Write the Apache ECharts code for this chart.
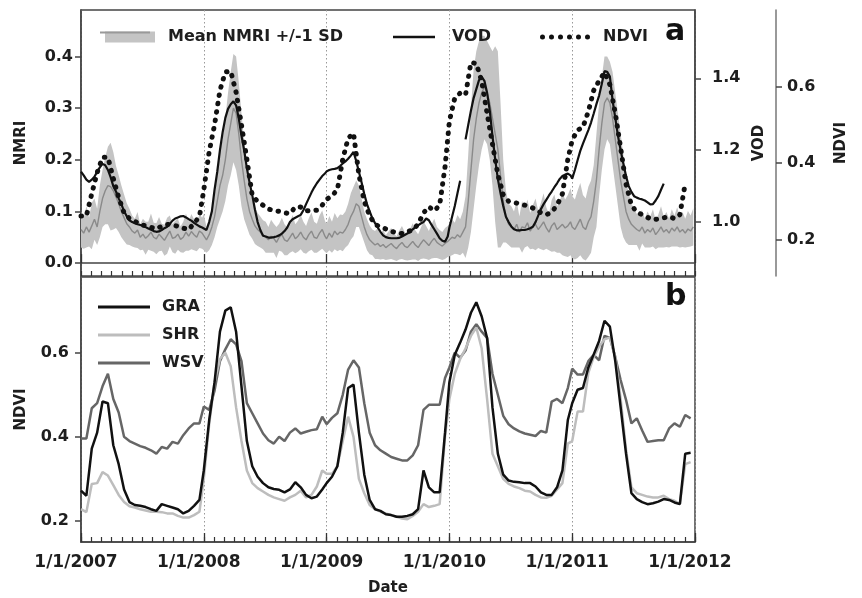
<!DOCTYPE html>
<html>
<head>
<meta charset="utf-8">
<script src="https://cdn.jsdelivr.net/npm/echarts@6/dist/echarts.min.js"></script>
<style>
    html, body { margin: 0; padding: 0; background: #fff; }
    #chart { width: 862px; height: 598px; }
</style>
</head>
<body>
<div id="chart"></div>
<script>
// 8-day NMRI (mean and SD), 2007-2011
let nmriMean = [
    .065,.058,.07,.06, .072,.085,.07,.1, .125,.14,.15, .148,.14,.128, .115,.1,.088,.076,
    .07,.062,.058,.064,.05,.056,.048,.053,.06,.05,.047,.056,.05,.044,.053,.062,.048,.05,.056,.046,.05,.06,.052,.061,.055,.05,.062,
    .058,.06,.045,.055,.07,
    .09,.12,.15,.17,.2,.24,.27,.30,.29,.25,.2,.16,.125,.1,.085,.072,.065,
    .06,.055,.05,.045,.052,.048,.04,.05,.055,.045,.042,.05,.058,.047,.052,.06,.05,.045,.055,.062,.05,.048,.058,.065,.052,.047,.058,.05,.062,.055,.06,.058,
    .065,.075,.09,.1,.115,.11,.09,.07,
    .055,.045,.04,.035,.038,.032,.036,.03,.034,.038,.032,.028,.035,.04,.033,.03,.036,.042,.035,.03,.038,.045,.04,.034,.042,.048,.04,.036,.033,.038,
    .042,.045,.05,.048,.055,.05,.06,
    .07,.12,.18,.24,.28,.31,.33,.34,.33,.31,.28,.25,.22,.17,.12,.09,.075,
    .07,.065,.075,.06,.07,.068,.078,.062,.07,.075,.065,.072,.08,.068,.06,.072,.078,.065,.07,.075,.068,.072,.08,.07,.065,.075,.085,.07,.065,.08,.09,
    .12,.16,.22,.27,.31,.32,.31,.28,.24,.2,.16,.13,.1,.085,.075,
    .07,.065,.062,.07,.058,.065,.06,.068,.055,.062,.07,.06,.065,.058,.068,.062,.07,.06,.065,.058,.066,.062,.07
];
let nmriSd = [
    .035,.03,.04,.028, .045,.04,.035,.05, .055,.065,.075, .085,.075,.06, .055,.05,.045,.04,
    .035,.03,.028,.035,.025,.03,.032,.027,.036,.028,.03,.033,.026,.03,.035,.03,.027,.032,.03,.025,.03,.036,.028,.034,.03,.027,.033,
    .03,.035,.025,.03,.035,
    .04,.05,.065,.07,.08,.09,.1,.105,.11,.1,.09,.075,.055,.045,.038,.035,.032,
    .03,.028,.03,.025,.032,.028,.03,.026,.033,.03,.027,.03,.035,.028,.03,.033,.03,.027,.032,.036,.03,.028,.034,.037,.03,.028,.033,.03,.035,.032,.034,.035,
    .035,.04,.045,.048,.045,.04,.035,.03,
    .03,.028,.025,.027,.03,.025,.028,.024,.027,.03,.026,.024,.028,.032,.027,.025,.03,.035,.028,.026,.03,.036,.032,.028,.033,.038,.03,.028,.027,.03,
    .03,.032,.035,.03,.038,.035,.04,
    .06,.09,.12,.135,.13,.12,.11,.1,.1,.11,.13,.17,.19,.14,.08,.05,.04,
    .04,.035,.045,.03,.05,.038,.045,.035,.042,.05,.036,.045,.055,.04,.035,.05,.055,.045,.05,.06,.055,.06,.065,.06,.058,.065,.07,.062,.06,.068,.07,
    .07,.09,.09,.09,.09,.08,.08,.09,.09,.09,.09,.08,.06,.05,.04,
    .035,.03,.038,.032,.028,.035,.03,.036,.028,.032,.04,.03,.034,.028,.036,.03,.038,.03,.034,.028,.035,.03,.036
];

// 8-day VOD, null = no data
let vod = [
    1.14,1.13,1.118,1.112,1.118,1.126,1.14,1.152,1.162,1.158,
    1.145,1.125,1.1,1.085,1.066,1.05,1.03,1.016,1.005,1.0,
    .997,.994,.992,.99,.986,.982,.979,.975,.973,.974,
    .978,.983,.987,.995,1.004,1.01,1.013,1.016,1.017,1.013,
    1.008,1.004,.998,.993,.988,.985,.982,.978,1.0,1.03,
    1.09,1.14,1.2,1.25,1.29,1.315,1.328,1.336,1.325,1.288,
    1.24,1.2,1.15,1.11,1.075,1.035,1.0,.978,.962,.96,
    .957,.957,.958,.96,.963,.968,.975,.985,1.0,1.008,
    1.012,1.016,1.02,1.033,1.05,1.066,1.082,1.096,1.108,1.118,
    1.128,1.135,1.141,1.145,1.147,1.148,1.15,1.156,1.163,1.169,
    1.176,1.185,1.195,1.17,1.14,1.11,1.078,1.05,1.03,1.01,
    .997,.985,.973,.963,.958,.956,.955,.955,.955,.956,
    .96,.964,.968,.974,.98,.986,.991,.996,1.0,1.01,
    1.005,.992,.98,.968,.955,.948,.945,.96,.985,1.015,
    1.045,1.08,1.115,null,1.23,1.27,1.31,1.345,1.37,1.395,
    1.404,1.393,1.36,1.31,1.24,1.175,1.12,1.08,1.045,1.015,
    1.0,.988,.98,.977,.977,.978,.978,.98,.983,.987,
    1.0,1.018,1.036,1.05,1.062,1.074,1.085,1.097,1.108,1.12,
    1.128,1.132,1.135,1.13,1.121,1.145,1.172,1.198,1.218,1.237,
    1.256,1.277,1.302,1.328,1.352,1.385,1.42,1.418,1.405,1.339,
    1.29,1.24,1.2,1.163,1.128,1.1,1.084,1.072,1.068,1.065,
    1.063,1.06,1.055,1.049,1.05,1.06,1.072,1.09,1.107
];

// 16-day NDVI composites
let ndviMean = [
    .262,.262,.32,.375,.415,.415,.36,.31,.27,.255,
    .248,.24,.236,.232,.228,.235,.24,.238,.235,.23,
    .226,.243,.26,.33,.43,.50,.59,.638,.64,.585,
    .50,.41,.315,.30,.29,.28,.276,.274,.27,.268,
    .285,.285,.275,.276,.277,.29,.305,.315,.33,.41,
    .465,.478,.37,.30,.262,.24,.233,.228,.222,.218,
    .216,.22,.226,.24,.27,.286,.275,.29,.39,.51,
    .57,.583,.578,.663,.66,.614,.53,.45,.37,.318,
    .30,.297,.294,.29,.285,.28,.27,.265,.272,.29,
    .32,.41,.46,.486,.494,.535,.59,.615,.637,.605,
    .53,.44,.345,.29,.272,.265,.258,.252,.254,.257,
    .26,.255,.265,.347
];
let gra = [
    .272,.26,.372,.41,.484,.48,.38,.335,.275,.245,
    .238,.236,.233,.228,.224,.24,.236,.232,.228,.218,
    .224,.236,.25,.32,.44,.53,.65,.70,.708,.65,
    .52,.39,.33,.305,.29,.28,.276,.274,.268,.275,
    .292,.28,.262,.254,.258,.275,.29,.305,.33,.41,
    .516,.524,.41,.31,.25,.228,.224,.216,.214,.21,
    .21,.212,.216,.228,.32,.28,.268,.268,.41,.53,
    .595,.624,.655,.695,.72,.686,.635,.47,.36,.31,
    .296,.293,.292,.29,.29,.282,.268,.262,.262,.28,
    .32,.44,.48,.512,.516,.565,.596,.628,.676,.662,
    .58,.47,.36,.266,.252,.245,.24,.242,.246,.252,
    .25,.244,.24,.36,.362
];
let shr = [
    .228,.221,.288,.29,.316,.308,.285,.262,.245,.235,
    .232,.228,.225,.222,.222,.221,.218,.218,.212,.208,
    .208,.214,.222,.30,.43,.53,.585,.60,.568,.47,
    .39,.32,.29,.278,.27,.262,.256,.252,.248,.256,
    .262,.272,.256,.262,.282,.32,.312,.312,.33,.39,
    .448,.40,.30,.266,.238,.228,.222,.218,.214,.21,
    .206,.204,.212,.222,.24,.233,.236,.24,.40,.49,
    .55,.585,.61,.64,.66,.61,.49,.36,.33,.30,
    .288,.282,.278,.272,.27,.262,.256,.255,.26,.275,
    .29,.384,.39,.46,.46,.552,.59,.615,.632,.636,
    .59,.49,.37,.28,.266,.262,.258,.256,.256,.26,
    .252,.248,.24,.335,.34
];
let wsv = [
    .396,.396,.468,.48,.52,.55,.49,.458,.40,.39,
    .384,.378,.374,.368,.36,.376,.372,.388,.384,.404,
    .42,.432,.432,.472,.464,.51,.58,.608,.632,.62,
    .58,.48,.456,.432,.408,.392,.384,.40,.39,.41,
    .42,.408,.412,.416,.418,.448,.43,.445,.456,.50,
    .56,.582,.565,.48,.41,.38,.368,.36,.352,.348,
    .344,.344,.356,.38,.464,.476,.476,.476,.54,.565,
    .60,.588,.605,.65,.668,.65,.635,.55,.50,.45,
    .43,.42,.413,.408,.405,.402,.414,.41,.484,.49,
    .48,.516,.562,.548,.548,.58,.595,.582,.64,.635,
    .59,.535,.488,.432,.444,.415,.388,.39,.392,.392,
    .42,.432,.424,.452,.444
];

let nmriTicks = [0, 0.1, 0.2, 0.3, 0.4];
let vodTicks = [1.0, 1.2, 1.4];
let ndviTicks = [0.2, 0.4, 0.6];

// composite dates as decimal years, starting 1/1/2007
function compositeYears(stepDays, count) {
    let perYear = Math.ceil(365 / stepDays);
    let out = [];
    for (let i = 0; i < count; i++) {
        let y = 2007 + Math.floor(i / perYear);
        out.push(y + (i % perYear) * stepDays / 365);
    }
    return out;
}
function pairs(dates, values) {
    return values.map((v, i) => [dates[i], v === null ? '-' : v]);
}

let days8 = compositeYears(8, 230);
let days16 = compositeYears(16, 115);
let monthTicks = [];
for (let m = 0; m <= 60; m++) {
    monthTicks.push(2007 + m / 12);
}
let bandData = nmriMean.map((m, i) => [days8[i], m - nmriSd[i], m + nmriSd[i]]);

let font = '"DejaVu Sans", sans-serif';
let labelStyle = {fontFamily: font, fontWeight: 'bold', fontSize: 16, color: '#1e1e1e'};
let nameStyle = {fontFamily: font, fontWeight: 'bold', fontSize: 15, color: '#1e1e1e'};
let axisColor = '#444';

// six round dots for the NDVI legend swatch
let dotIcon = 'path://' + [0, 9, 18, 27, 36, 45].map((x) =>
    'M' + x + ',2.5a2.5,2.5 0 1,0 5,0a2.5,2.5 0 1,0 -5,0').join('');

function yAxisBase(grid, min, max, ticks, extra) {
    return Object.assign({
        type: 'value',
        gridIndex: grid,
        min: min,
        max: max,
        axisLine: {show: true, lineStyle: {color: axisColor, width: 1.5}},
        axisTick: {show: true, length: 6, customValues: ticks, lineStyle: {color: axisColor, width: 1.5}},
        splitLine: {show: false},
        nameLocation: 'middle',
        nameTextStyle: nameStyle
    }, extra);
}
function tickLabels(ticks, margin) {
    return Object.assign({customValues: ticks, margin: margin, formatter: (v) => v.toFixed(1)}, labelStyle);
}
// year axis: dotted year lines, long year ticks, labels
function yearAxis(grid, showLabel) {
    return {
        type: 'value',
        gridIndex: grid,
        min: 2007,
        max: 2012,
        interval: 1,
        axisLine: {show: true, lineStyle: {color: axisColor, width: 1.5}},
        axisTick: {show: true, inside: true, length: 9, lineStyle: {color: '#333', width: 1.3}},
        axisLabel: Object.assign({show: showLabel, margin: 12, padding: [0, 10, 0, 0],
            formatter: (v) => '1/1/' + v}, labelStyle, {fontSize: 17}),
        splitLine: {show: true, lineStyle: {color: '#999', width: 1, type: [1.5, 2.5]}},
        name: showLabel ? 'Date' : '',
        nameLocation: 'middle',
        nameGap: 39,
        nameTextStyle: nameStyle
    };
}
// month axis: only the short monthly ticks
function monthAxis(grid) {
    return {
        type: 'value',
        gridIndex: grid,
        position: 'bottom',
        min: 2007,
        max: 2012,
        axisLine: {show: false},
        axisTick: {show: true, inside: true, length: 5, customValues: monthTicks, lineStyle: {color: '#333', width: 1.2}},
        axisLabel: {show: false},
        splitLine: {show: false}
    };
}

let myChart = echarts.init(document.getElementById('chart'));
let option = {
    animation: false,
    backgroundColor: '#fff',
    textStyle: {fontFamily: font},
    grid: [
        {left: 81, top: 10, width: 614, height: 266, show: true, borderColor: axisColor, borderWidth: 1.5, outerBoundsMode: 'none'},
        {left: 81, top: 277, width: 614, height: 265, show: true, borderColor: axisColor, borderWidth: 1.5, outerBoundsMode: 'none'}
    ],
    title: [
        {text: 'a', left: 665, top: 17, padding: 0, textStyle: {fontFamily: font, fontWeight: 'bold', fontSize: 30, color: '#111'}},
        {text: 'b', left: 665, top: 282, padding: 0, textStyle: {fontFamily: font, fontWeight: 'bold', fontSize: 30, color: '#111'}}
    ],
    legend: [
        {data: [{name: 'Mean NMRI +/-1 SD', icon: 'rect'}], left: 100, top: 24, itemWidth: 50, itemHeight: 11,
            textStyle: Object.assign({padding: [0, 0, 0, 8]}, labelStyle)},
        {data: [{name: 'VOD', icon: 'rect'}], left: 388, top: 24, itemWidth: 42, itemHeight: 2.5,
            textStyle: Object.assign({padding: [0, 0, 0, 12]}, labelStyle)},
        {data: [{name: 'NDVI', icon: dotIcon}], left: 535, top: 24, itemWidth: 50, itemHeight: 5,
            textStyle: Object.assign({padding: [0, 0, 0, 8]}, labelStyle)},
        {data: [{name: 'GRA', icon: 'rect'}, {name: 'SHR', icon: 'rect'}, {name: 'WSV', icon: 'rect'}],
            orient: 'vertical', left: 93, top: 294, itemWidth: 52, itemHeight: 3, itemGap: 12,
            textStyle: Object.assign({padding: [0, 0, 0, 7]}, labelStyle)}
    ],
    graphic: [
        // darker mean stripe inside the band legend swatch
        {type: 'line', shape: {x1: 100, y1: 32.5, x2: 150, y2: 32.5}, style: {stroke: '#999', lineWidth: 2}, z: 100}
    ],
    xAxis: [yearAxis(0, false), yearAxis(1, true), monthAxis(0), monthAxis(1)],
    yAxis: [
        yAxisBase(0, -0.025, 0.49, nmriTicks, {position: 'left', name: 'NMRI', nameGap: 52, axisLabel: tickLabels(nmriTicks, 8)}),
        yAxisBase(0, 0.85, 1.59, vodTicks, {position: 'right', name: 'VOD', nameGap: 53, axisLabel: tickLabels(vodTicks, 17)}),
        yAxisBase(0, 0.105, 0.8, ndviTicks, {position: 'right', offset: 81, name: 'NDVI', nameGap: 58,
            axisLine: {show: true, lineStyle: {color: '#777', width: 1.5}}, axisLabel: tickLabels(ndviTicks, 11)}),
        yAxisBase(1, 0.15, 0.78, ndviTicks, {position: 'left', name: 'NDVI', nameGap: 52, axisLabel: tickLabels(ndviTicks, 12)})
    ],
    series: [
        {
            name: 'Mean NMRI +/-1 SD', type: 'custom', xAxisIndex: 0, yAxisIndex: 0,
            itemStyle: {color: '#c4c4c4'}, clip: true, z: 1,
            encode: {x: 0, y: [1, 2]},
            data: bandData,
            renderItem: function (params, api) {
                // whole band drawn once as one polygon
                if (params.dataIndex !== 0) {
                    return null;
                }
                let upper = bandData.map((d) => api.coord([d[0], d[2]]));
                let lower = bandData.map((d) => api.coord([d[0], d[1]])).reverse();
                return {type: 'polygon', shape: {points: upper.concat(lower)}, style: {fill: '#c4c4c4'}};
            }
        },
        {name: 'nmriMean', type: 'line', xAxisIndex: 0, yAxisIndex: 0, symbol: 'none',
            lineStyle: {color: '#8a8a8a', width: 1.4}, data: pairs(days8, nmriMean), z: 2},
        {name: 'VOD', type: 'line', xAxisIndex: 0, yAxisIndex: 1, symbol: 'none', connectNulls: false,
            itemStyle: {color: '#111'}, lineStyle: {color: '#111', width: 2.2}, data: pairs(days8, vod), z: 3},
        {name: 'NDVI', type: 'line', xAxisIndex: 0, yAxisIndex: 2, symbol: 'none',
            itemStyle: {color: '#111'}, lineStyle: {color: '#111', width: 5, type: [0.5, 8], cap: 'round'},
            data: pairs(days16, ndviMean), z: 4},
        {name: 'WSV', type: 'line', xAxisIndex: 1, yAxisIndex: 3, symbol: 'none',
            itemStyle: {color: '#666'}, lineStyle: {color: '#666', width: 2.5}, data: pairs(days16, wsv), z: 2},
        {name: 'SHR', type: 'line', xAxisIndex: 1, yAxisIndex: 3, symbol: 'none',
            itemStyle: {color: '#bdbdbd'}, lineStyle: {color: '#bdbdbd', width: 2.5}, data: pairs(days16, shr), z: 3},
        {name: 'GRA', type: 'line', xAxisIndex: 1, yAxisIndex: 3, symbol: 'none',
            itemStyle: {color: '#111'}, lineStyle: {color: '#111', width: 2.5}, data: pairs(days16, gra), z: 4}
    ]
};
myChart.setOption(option);
</script>
</body>
</html>
